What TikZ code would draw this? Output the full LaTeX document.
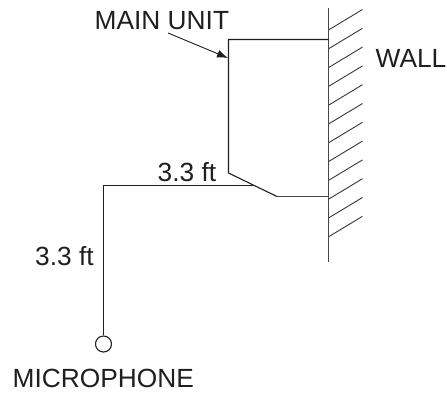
\documentclass[tikz,border=0pt]{standalone}
\usepackage{fontspec}
\setmainfont{Liberation Sans}
\usetikzlibrary{arrows.meta}
\tikzset{
  lbl/.style={inner sep=0pt,text=black!88,font=\fontsize{26.3}{30}\selectfont},
  ln/.style={line width=1.1pt,draw=black!88,line join=miter},
  wallline/.style={line width=1.4pt,draw=black!72},
  hatchline/.style={line width=0.9pt,draw=black!78},
}
\begin{document}
\begin{tikzpicture}[x=1pt,y=-1pt]
\useasboundingbox (0,0) rectangle (447,392);
\fill[white] (0,0) rectangle (447,392);
\coordinate (walltop) at (328.5,8);
\coordinate (wallbot) at (328.5,262);
\coordinate (ua) at (328.5,39.5);
\coordinate (ub) at (228.5,39.5);
\coordinate (uc) at (228.5,173);
\coordinate (ud) at (277,196.5);
\coordinate (ue) at (328.5,196.5);
\coordinate (cablejoin) at (253,185.5);
\coordinate (cablecorner) at (103.5,185.5);
\coordinate (arrowstart) at (168,33);
\coordinate (arrowend) at (228,58);
\node[circle,draw=black!88,line width=1.1pt,minimum size=16pt,inner sep=0pt] (mic) at (103.5,344) {};
\foreach \i in {0,...,11}{
  \draw[hatchline] (328.5,30+18.8*\i) -- ++(34,-20.5);
}
\draw[wallline] (walltop) -- (wallbot);
\draw[ln] (ua) -- (ub) -- (uc) -- (ud);
\draw[wallline] (ud) -- (ue);
\draw[ln] (cablejoin) -- (cablecorner) -- (mic.north);
\draw[line width=0.9pt,draw=black!88,-{Latex[length=11pt,width=8pt]}] (arrowstart) -- (arrowend);
\node[lbl,anchor=base west] (mainunit) at (94.5,29) {MAIN UNIT};
\node[lbl,anchor=base west] (wall) at (375.5,67) {WALL};
\node[lbl,anchor=base west] (hlen) at (157.5,181) {3.3 ft};
\node[lbl,anchor=base west] (vlen) at (35,265) {3.3 ft};
\node[lbl,anchor=base west] (miclabel) at (12.5,387) {MICROPHONE};
\end{tikzpicture}
\end{document}
